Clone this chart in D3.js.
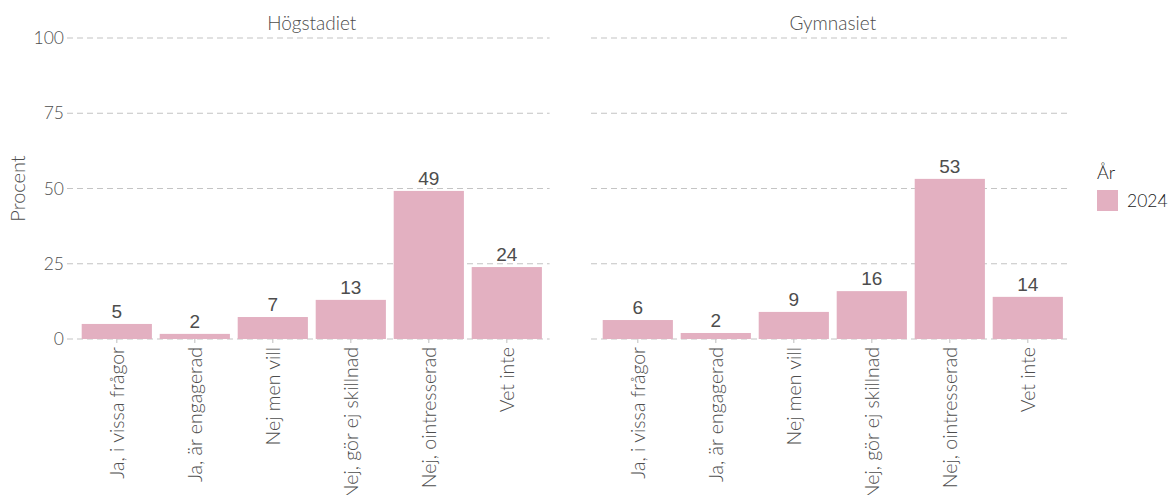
<!DOCTYPE html>
<html>
<head>
<meta charset="utf-8">
<script src="https://cdn.jsdelivr.net/npm/d3@7"></script>
<style>
  body { margin: 0; background: #fff; }
  svg text { font-family: Lato, "Open Sans", sans-serif; }
</style>
</head>
<body>
<svg id="chart" width="1170" height="495"></svg>
<script>
const categories = ['Ja, i vissa frågor', 'Ja, är engagerad', 'Nej men vill', 'Nej, gör ej skillnad', 'Nej, ointresserad', 'Vet inte']
const facets = ['Högstadiet', 'Gymnasiet']
const hogstadiet = [5.0, 1.7, 7.3, 13.0, 49.2, 23.9]
const gymnasiet = [6.3, 2.0, 9.0, 15.9, 53.2, 14.0]
const yTicks = [0, 25, 50, 75, 100]
const year = '2024'

const series = { 'Högstadiet': hogstadiet, 'Gymnasiet': gymnasiet }

const barColor = '#e3b0c1'
const gridColor = '#c4c4c4'
const axisText = '#4d4d4d'

const svg = d3.select('#chart')

const panelWidth = 483.6
const panelLefts = [70, 591]
const panelTop = 38, panelBottom = 339

const y = d3.scaleLinear().domain([0, 100]).range([panelBottom, panelTop])

// y title
svg.append('text')
    .text('Procent')
    .attr('transform', `translate(25, ${(panelTop + panelBottom) / 2}) rotate(-90)`)
    .attr('text-anchor', 'middle')
    .attr('font-size', '20px')
    .attr('font-weight', 300)
    .attr('fill', axisText)

facets.forEach((facet, fi) => {
    let left = panelLefts[fi]
    let x = d3.scaleBand()
        .domain(categories)
        .range([left, left + panelWidth])
        .paddingInner(0.1)
        .paddingOuter(0.15)

    let g = svg.append('g').attr('class', 'panel')

    // grid
    g.selectAll('line.grid')
        .data(yTicks)
        .join('line')
        .attr('class', 'grid')
        .attr('x1', left - (fi === 0 ? 3 : 0))
        .attr('x2', left + panelWidth - 4)
        .attr('y1', d => y(d))
        .attr('y2', d => y(d))
        .attr('stroke', gridColor)
        .attr('stroke-width', 1.1)
        .attr('stroke-dasharray', '6,4')

    // y tick labels only on first panel
    if (fi === 0) {
        g.selectAll('text.ytick')
            .data(yTicks)
            .join('text')
            .attr('class', 'ytick')
            .attr('x', left - 6)
            .attr('y', d => y(d))
            .attr('dy', '0.35em')
            .attr('text-anchor', 'end')
            .attr('font-size', '17.5px')
            .attr('font-weight', 300)
            .attr('fill', axisText)
            .text(d => d)
    }

    // facet title
    g.append('text')
        .text(facet)
        .attr('x', left + panelWidth / 2)
        .attr('y', 30)
        .attr('text-anchor', 'middle')
        .attr('font-size', '19px')
        .attr('font-weight', 300)
        .attr('fill', axisText)

    let data = categories.map((c, i) => ({ cat: c, value: series[facet][i] }))

    g.selectAll('rect.bar')
        .data(data)
        .join('rect')
        .attr('class', 'bar')
        .attr('x', d => x(d.cat))
        .attr('width', x.bandwidth())
        .attr('y', d => y(d.value))
        .attr('height', d => y(0) - y(d.value))
        .attr('fill', barColor)

    // value labels
    g.selectAll('text.val')
        .data(data)
        .join('text')
        .attr('class', 'val')
        .attr('x', d => x(d.cat) + x.bandwidth() / 2)
        .attr('y', d => y(d.value) - 6)
        .attr('text-anchor', 'middle')
        .attr('font-size', '19px')
        .style('font-family', '"Liberation Sans", Arial, sans-serif')
        .attr('fill', '#4d4d4d')
        .text(d => Math.round(d.value))

    // x ticks
    g.selectAll('line.xtick')
        .data(categories)
        .join('line')
        .attr('class', 'xtick')
        .attr('x1', d => x(d) + x.bandwidth() / 2)
        .attr('x2', d => x(d) + x.bandwidth() / 2)
        .attr('y1', panelBottom)
        .attr('y2', panelBottom + 4)
        .attr('stroke', gridColor)
        .attr('stroke-width', 1.1)

    // x labels
    g.selectAll('text.xlab')
        .data(categories)
        .join('text')
        .attr('class', 'xlab')
        .attr('transform', d => `translate(${x(d) + x.bandwidth() / 2}, ${panelBottom + 8}) rotate(-90)`)
        .attr('dy', '0.35em')
        .attr('text-anchor', 'end')
        .attr('font-size', '19.5px')
        .attr('font-weight', 300)
        .attr('fill', axisText)
        .text(d => d)
})

// legend
const legend = svg.append('g').attr('transform', 'translate(1097, 0)')
legend.append('text')
    .text('År')
    .attr('x', 0)
    .attr('y', 179)
    .attr('font-size', '18px')
    .attr('font-weight', 300)
    .attr('fill', '#1a1a1a')
legend.append('rect')
    .attr('x', 0)
    .attr('y', 190)
    .attr('width', 21)
    .attr('height', 21)
    .attr('fill', barColor)
legend.append('text')
    .text(year)
    .attr('x', 30)
    .attr('y', 201)
    .attr('dy', '0.35em')
    .attr('font-size', '17.5px')
    .attr('font-weight', 300)
    .attr('fill', '#1a1a1a')
</script>
</body>
</html>
